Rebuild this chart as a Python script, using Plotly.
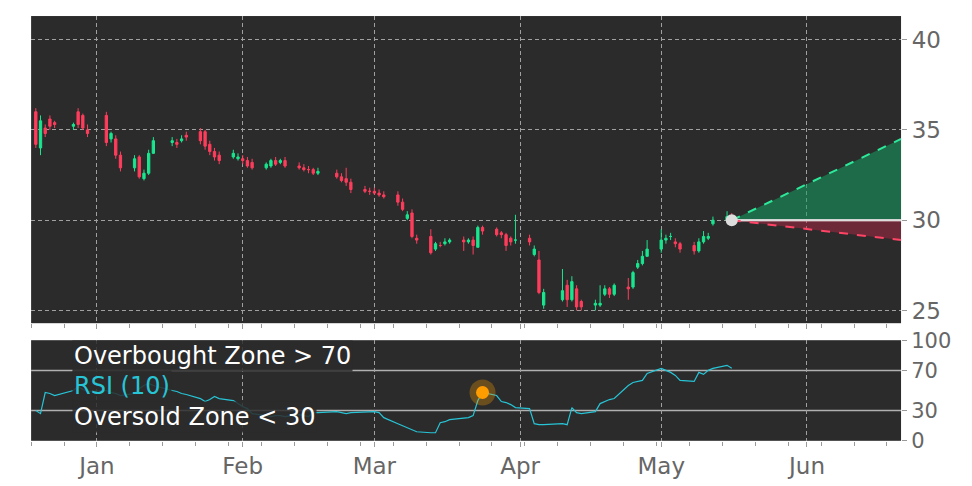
import plotly.graph_objects as go

dec_days = [19,20,21,22,23,27,28,29,30]
jan_days = [3,4,5,6,9,10,11,12,13,17,18,19,20,23,24,25,26,27,30,31]
feb_days = [1,2,3,6,7,8,9,10,13,14,15,16,17,21,22,23,24,27,28]
mar_days = [1,2,3,6,7,8,9,10,13,14,15,16,17,20,21,22,23,24,27,28,29,30,31]
apr_days = [3,4,5,6,10,11,12,13,14,17,18,19,20,21,24,25,26,27,28]
may_days = [1,2,3,4,5,8,9,10,11,12,15,16]

opens = [36.0,34.0,35.1,35.6,35.4,35.2,36.0,35.8,35.0,
         35.8,34.5,34.5,33.6,32.9,33.5,32.3,32.6,33.7,34.3,34.3,34.4,34.7,34.9,34.9,34.2,33.8,33.6,33.5,33.4,
         33.4,33.3,33.2,32.9,33.0,33.3,33.2,33.3,33.0,32.9,32.8,32.8,32.6,32.6,32.4,32.3,32.1,31.7,31.6,
         31.6,31.5,31.4,31.4,31.0,30.1,30.4,29.0,29.1,28.4,28.6,28.7,28.8,28.9,28.8,28.9,28.5,29.6,29.5,29.3,29.2,29.0,28.9,
         29.0,28.1,27.8,25.3,25.6,26.4,25.6,26.2,25.5,25.3,25.3,25.9,26.2,25.9,26.3,26.3,27.4,27.6,28.0,
         28.4,28.9,29.1,28.8,28.7,28.6,28.3,28.8,29.0,29.8,30.0,30.2]
closes = [34.2,35.5,34.8,35.2,35.3,35.3,35.3,35.1,34.8,
          34.3,34.8,33.6,32.9,33.4,32.4,32.6,33.7,34.4,34.4,34.2,34.5,34.6,34.4,34.1,33.8,33.5,33.3,33.7,33.5,
          33.3,33.0,32.9,33.1,33.3,33.1,33.3,33.0,32.9,32.8,32.8,32.6,32.7,32.4,32.2,32.1,31.7,31.6,31.6,
          31.5,31.4,31.3,31.0,30.6,30.3,29.1,28.9,28.2,28.7,28.6,28.8,28.9,28.8,28.9,28.6,29.6,29.4,29.2,29.2,28.6,28.8,28.9,
          28.8,28.4,26.0,26.0,26.1,25.6,26.6,25.2,25.2,25.4,25.4,26.2,25.9,26.4,26.2,27.1,27.6,28.0,28.4,
          28.9,29.0,29.1,28.7,28.4,28.3,28.8,29.1,29.1,30.0,30.2,30.0]
highs = [36.2,35.8,35.3,35.8,35.5,35.4,36.2,35.9,35.3,
         36.0,34.9,34.7,33.8,33.6,33.6,32.8,33.9,34.6,34.6,34.5,34.7,34.9,35.1,35.0,34.4,34.0,33.8,33.9,33.7,
         33.6,33.5,33.4,33.2,33.4,33.5,33.4,33.5,33.2,33.1,33.0,32.9,32.9,32.8,32.6,32.9,32.3,31.9,31.8,
         31.8,31.7,31.6,31.6,31.2,30.5,30.6,29.2,29.5,28.8,28.8,29.0,29.0,29.1,29.0,29.1,29.7,29.7,29.6,29.4,29.3,29.1,30.3,
         29.2,28.6,28.3,26.2,27.3,26.7,26.9,26.4,25.6,25.6,26.4,26.4,26.3,26.5,26.8,27.2,27.8,28.3,28.9,
         29.5,29.2,29.3,29.0,28.8,28.8,29.0,29.4,29.3,30.2,30.5,30.4]
lows = [34.0,33.6,34.6,35.0,35.1,35.0,35.1,35.0,34.6,
        34.1,34.3,33.4,32.7,32.7,32.3,32.2,32.5,34.1,34.1,34.0,34.3,34.4,34.2,33.9,33.6,33.3,33.1,33.4,33.3,
        33.1,32.9,32.8,32.8,32.9,33.0,33.1,32.9,32.8,32.7,32.6,32.5,32.5,32.3,32.1,31.9,31.5,31.5,31.4,
        31.4,31.3,31.2,30.8,30.5,30.0,29.0,28.7,28.1,28.3,28.5,28.6,28.7,28.3,28.7,28.1,28.5,29.2,29.1,29.0,28.3,28.6,28.7,
        28.6,28.0,25.9,25.1,25.5,25.2,25.5,25.0,25.0,25.0,25.2,25.8,25.7,25.8,25.6,26.2,27.3,27.5,28.0,
        28.2,28.7,28.9,28.5,28.2,28.1,28.2,28.7,28.9,29.7,29.9,29.9]
rsi = [30,27,48,47,45,50,54,51,49,
       50,48,47,45,47,52,55,57,55,50,49,47,46,42,39,41,44,42,40,37,
       34,32,27,25,24,25,25,24,26,25,24,28,28,29,28,27,28,29,29,
       29,28,23,17,15,13,11,9,8,8,18,19,21,22,23,25,40,48,45,39,38,36,33,
       32,17,16,16,17,16,33,28,27,29,37,39,41,42,55,58,59,60,67,
       72,70,68,65,60,59,68,66,70,72,75,72]

dates = ([f"2022-12-{d:02d}" for d in dec_days] + [f"2023-01-{d:02d}" for d in jan_days] +
         [f"2023-02-{d:02d}" for d in feb_days] + [f"2023-03-{d:02d}" for d in mar_days] +
         [f"2023-04-{d:02d}" for d in apr_days] + [f"2023-05-{d:02d}" for d in may_days])

fc_dates = ["2023-05-16", "2023-06-21"]
fc_base = [30.0, 30.0]
fc_up = [30.0, 34.5]
fc_dn = [30.0, 28.9]
signal_date = "2023-03-24"
signal_rsi = 48

BG = "#2b2b2b"
GRID = "#a0a0a0"
TICK = "#666666"

fig = go.Figure()
fig.add_trace(go.Candlestick(x=dates, open=opens, high=highs, low=lows, close=closes,
    increasing=dict(line=dict(color="#19e68f", width=1), fillcolor="#19e68f"),
    decreasing=dict(line=dict(color="#ff3d5c", width=1), fillcolor="#ff3d5c"),
    xaxis="x", yaxis="y", showlegend=False, whiskerwidth=0))
fig.add_trace(go.Scatter(x=fc_dates, y=fc_base, mode="lines", line=dict(color="#dddddd", width=2), showlegend=False))
fig.add_trace(go.Scatter(x=fc_dates, y=fc_up, mode="lines", line=dict(color="#2ee89a", width=2, dash="dash"),
    fill="tonexty", fillcolor="rgba(20,160,100,0.55)", showlegend=False))
fig.add_trace(go.Scatter(x=fc_dates, y=fc_base, mode="lines", line=dict(color="#dddddd", width=2), showlegend=False))
fig.add_trace(go.Scatter(x=fc_dates, y=fc_dn, mode="lines", line=dict(color="#ff4466", width=2, dash="dash"),
    fill="tonexty", fillcolor="rgba(190,40,70,0.45)", showlegend=False))
fig.add_trace(go.Scatter(x=[fc_dates[0]], y=[fc_base[0]], mode="markers",
    marker=dict(color="#dddddd", size=12), showlegend=False))

fig.add_trace(go.Scatter(x=dates, y=rsi, mode="lines", line=dict(color="#27c4d6", width=1.2),
    xaxis="x2", yaxis="y2", showlegend=False))
fig.add_trace(go.Scatter(x=[signal_date], y=[signal_rsi], mode="markers",
    marker=dict(color="rgba(255,160,0,0.3)", size=26), xaxis="x2", yaxis="y2", showlegend=False))
fig.add_trace(go.Scatter(x=[signal_date], y=[signal_rsi], mode="markers",
    marker=dict(color="#ff9c00", size=13), xaxis="x2", yaxis="y2", showlegend=False))

xr = ["2022-12-18", "2023-06-21"]
for lvl in (70, 30):
    fig.add_shape(type="line", xref="x2 domain", yref="y2", x0=0, x1=1, y0=lvl, y1=lvl,
                  line=dict(color="#b0b0b0", width=1.5), layer="below")

ax = dict(type="date", range=xr, showgrid=True, gridcolor=GRID, griddash="4px,3px", gridwidth=1,
          dtick="M1", tick0="2023-01-01", tickformat="%b", zeroline=False,
          minor=dict(dtick=7*86400000, tick0="2023-01-01", ticks="outside", ticklen=4, tickcolor="#999", showgrid=False),
          ticks="outside", ticklen=5, tickcolor="#999", tickfont=dict(size=23, color=TICK), rangeslider=dict(visible=False))
fig.update_layout(
    width=972, height=486, margin=dict(l=0, r=0, t=0, b=0, autoexpand=False),
    paper_bgcolor="white", plot_bgcolor=BG, font=dict(family="DejaVu Sans"),
    xaxis=dict(ax, domain=[0.032, 0.927], anchor="y", showticklabels=False, automargin=False),
    yaxis=dict(domain=[0.335, 0.967], range=[24.3, 41.3], side="right", dtick=5, showgrid=True,
               gridcolor=GRID, griddash="4px,3px", zeroline=False, ticks="outside", ticklen=5, automargin=False,
               tickcolor="#999", tickfont=dict(size=23, color=TICK)),
    xaxis2=dict(ax, domain=[0.032, 0.927], anchor="y2", matches="x", automargin=False),
    yaxis2=dict(domain=[0.093, 0.30], range=[0, 100], side="right", tickvals=[0, 30, 70, 100], automargin=False,
                showgrid=False, zeroline=False, ticks="outside", ticklen=5, tickcolor="#999",
                tickfont=dict(size=21, color=TICK)),
)
for txt, yy, col in [("Overbought Zone > 70", 356, "white"), ("RSI (10)", 386, "#27c4d6"),
                     ("Oversold Zone < 30", 417, "white")]:
    fig.add_annotation(text=txt, xref="paper", yref="paper", x=72/972, y=1 - yy/486, xanchor="left",
                       yanchor="middle", showarrow=False, font=dict(size=24, color=col),
                       bgcolor="rgba(43,43,43,0.85)", borderpad=1)
fig.write_html("out.html", config={"displayModeBar": False},
               post_script="document.body.style.margin='0';")
